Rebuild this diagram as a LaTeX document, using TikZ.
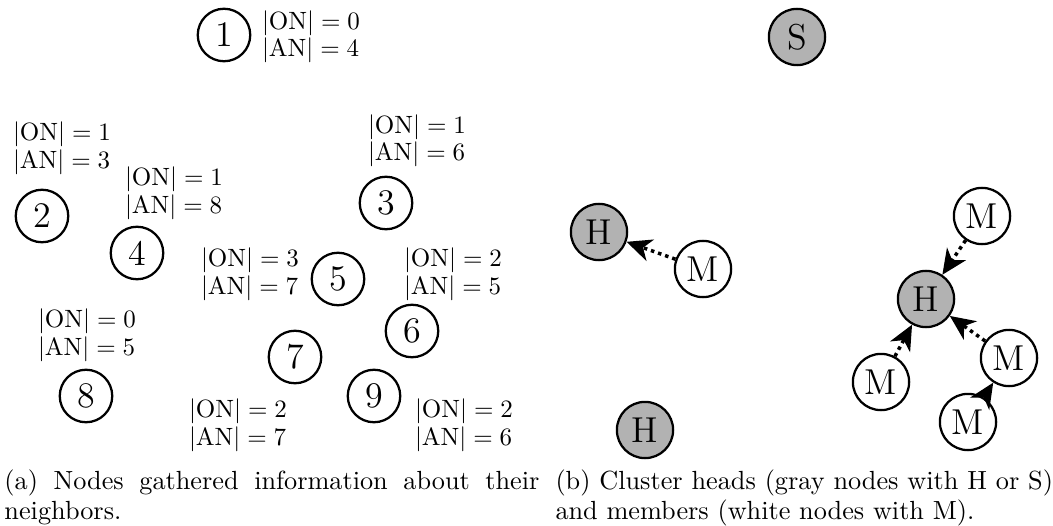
\documentclass[tikz,border=0pt]{standalone}
\usetikzlibrary{arrows.meta}
\begin{document}
\begin{tikzpicture}[x=0.4pt,y=-0.4pt,
  idnode/.style={circle,draw,line width=0.9pt,minimum size=21pt,inner sep=0pt,font=\Large},
  member/.style={circle,draw,line width=0.9pt,minimum size=22.5pt,inner sep=0pt,font=\Large,fill=white},
  head/.style={member,fill=black!30},
  info/.style={align=left,inner sep=0pt,font=\fontsize{10.4pt}{11pt}\selectfont},
  joins/.style={line width=1.4pt,dash pattern=on 1.4pt off 1.6pt,
    -{Stealth[length=10pt,width=9pt,inset=3pt]}},
  caption/.style={anchor=base west,inner sep=0pt,font=\fontsize{10.5pt}{12pt}\selectfont}]
\useasboundingbox (0,0) rectangle (1053,526);

% (a) nodes with their neighbourhood counts
\node[idnode] (n1) at (224,35) {1};
\node[idnode] (n2) at (42,216) {2};
\node[idnode] (n3) at (386,203) {3};
\node[idnode] (n4) at (137,253) {4};
\node[idnode] (n5) at (338,279) {5};
\node[idnode] (n6) at (412,331) {6};
\node[idnode] (n7) at (295,357) {7};
\node[idnode] (n8) at (86,396) {8};
\node[idnode] (n9) at (374,396) {9};

\node[info] (i1) at (311,37) {$|\mathrm{ON}| = 0$\\$|\mathrm{AN}| = 4$};
\node[info] (i2) at (62,148) {$|\mathrm{ON}| = 1$\\$|\mathrm{AN}| = 3$};
\node[info] (i3) at (417,141) {$|\mathrm{ON}| = 1$\\$|\mathrm{AN}| = 6$};
\node[info] (i4) at (174,193) {$|\mathrm{ON}| = 1$\\$|\mathrm{AN}| = 8$};
\node[info] (i5) at (250,274) {$|\mathrm{ON}| = 3$\\$|\mathrm{AN}| = 7$};
\node[info] (i6) at (453,274) {$|\mathrm{ON}| = 2$\\$|\mathrm{AN}| = 5$};
\node[info] (i8) at (87,335) {$|\mathrm{ON}| = 0$\\$|\mathrm{AN}| = 5$};
\node[info] (i7) at (238,425) {$|\mathrm{ON}| = 2$\\$|\mathrm{AN}| = 7$};
\node[info] (i9) at (464,425) {$|\mathrm{ON}| = 2$\\$|\mathrm{AN}| = 6$};

\node[caption] (capa) at (4,489) {\parbox[t]{214pt}{(a) Nodes gathered information about their neighbors.}};

% (b) cluster heads and their members
\node[head] (s) at (797,37) {S};
\node[head] (h1) at (599,232) {H};
\node[member] (m1) at (703,269) {M};
\node[head] (h2) at (926,299) {H};
\node[member] (m2) at (982,216) {M};
\node[member] (m3) at (1009,358) {M};
\node[member] (m4) at (881,382) {M};
\node[member] (m5) at (968,422) {M};
\node[head] (h3) at (645,430) {H};

\draw[joins] (m1) -- (h1);
\draw[joins] (m2) -- (h2);
\draw[joins] (m3) -- (h2);
\draw[joins] (m4) -- (h2);
\draw[joins] (m5) -- (m3);

\node[caption] (capb) at (555,489) {\parbox[t]{199pt}{(b) Cluster heads (gray nodes with H or S) and members (white nodes with M).}};
\end{tikzpicture}
\end{document}
